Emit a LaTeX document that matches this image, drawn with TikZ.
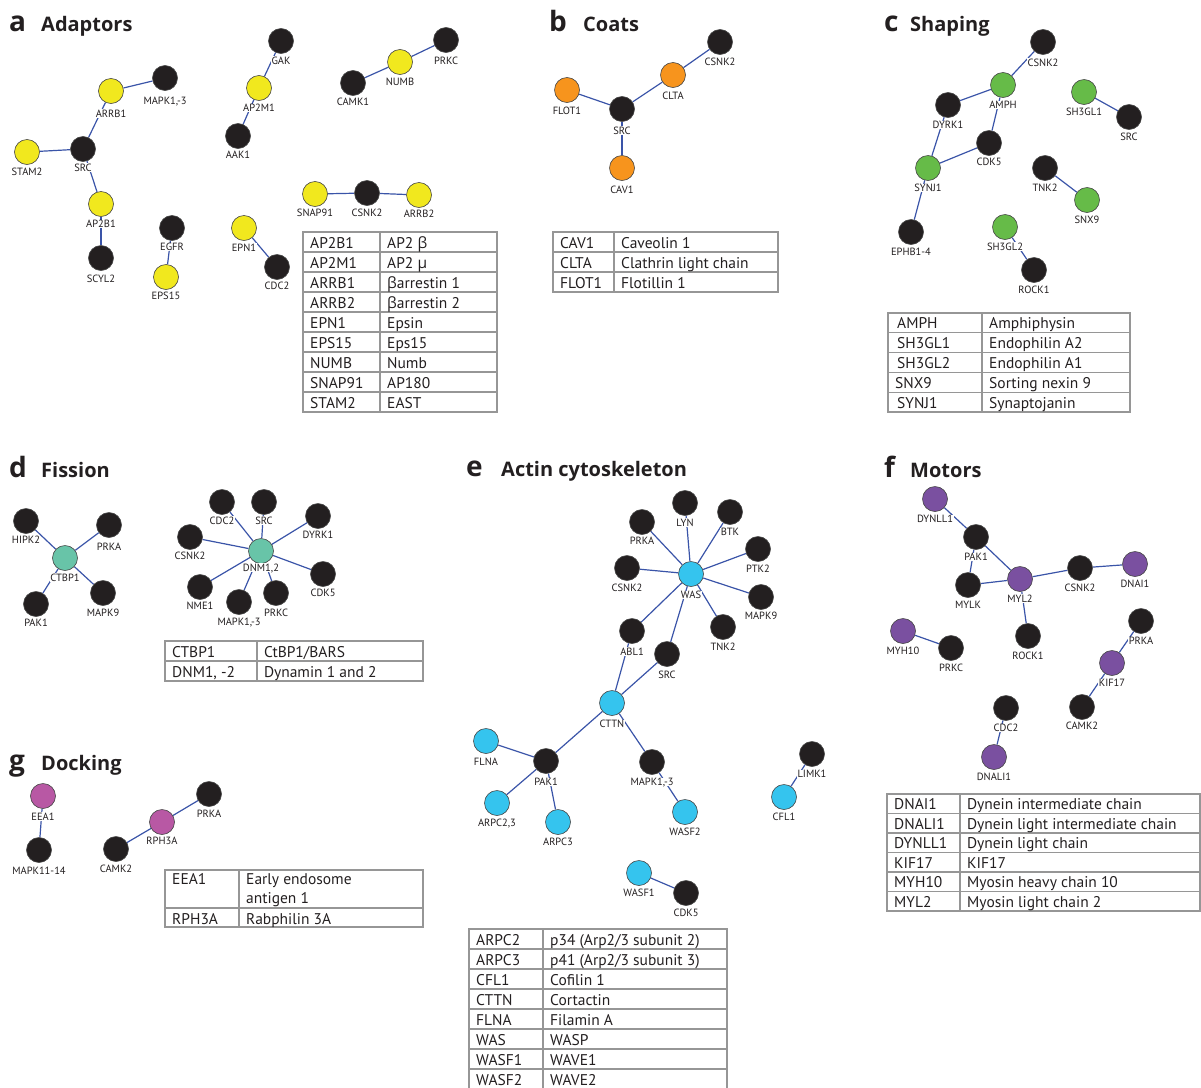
\documentclass[tikz,border=0pt]{standalone}
\usepackage{fontspec}
\setmainfont{PT Sans}
\newfontfamily\grk{Open Sans}
\newfontfamily\hfont{Open Sans}
\pgfdeclarelayer{edgelayer}
\pgfsetlayers{edgelayer,main}
\definecolor{nblack}{RGB}{35,31,32}
\definecolor{nyel}{RGB}{241,232,30}
\definecolor{norange}{RGB}{247,148,29}
\definecolor{ngreen}{RGB}{102,187,72}
\definecolor{nteal}{RGB}{104,196,168}
\definecolor{ncyan}{RGB}{53,196,238}
\definecolor{npurple}{RGB}{122,80,160}
\definecolor{nmag}{RGB}{184,88,164}
\definecolor{eblue}{RGB}{58,84,168}
\definecolor{tgray}{RGB}{150,150,150}
\definecolor{nborder}{RGB}{70,70,70}
\newcommand\gn[6]{\node[#2] (#1) at (#3,#4) {}; \node[lbl] (#1-l) at (#3,#5) {#6};}
\newcommand\trow[6]{\node[tt] (#1a) at (#2+7,#4) {#5}; \node[tt] (#1b) at (#3+7,#4) {#6};}
\begin{document}
\begin{tikzpicture}[x=1pt,y=-1pt,
  nd/.style={circle, draw=nborder, line width=0.6pt, minimum size=25pt, inner sep=0pt},
  blk/.style={nd, fill=nblack},
  yel/.style={nd, fill=nyel},
  org/.style={nd, fill=norange},
  grn/.style={nd, fill=ngreen},
  tea/.style={nd, fill=nteal},
  cya/.style={nd, fill=ncyan},
  pur/.style={nd, fill=npurple},
  mag/.style={nd, fill=nmag},
  lbl/.style={font=\fontsize{10.5}{10.5}\selectfont, text=nblack, fill=white, inner sep=0.6pt, text height=7.3pt, text depth=0pt},
  ed/.style={draw=eblue, line width=1.2pt},
  tbl/.style={draw=tgray, line width=1.2pt},
  tt/.style={font=\fontsize{15.5}{15.5}\selectfont, text=nblack, anchor=base west, inner sep=0pt},
  hl/.style={font=\hfont\bfseries\fontsize{28}{28}\selectfont, text=nblack, anchor=base west, inner sep=0pt},
  ht/.style={font=\hfont\bfseries\fontsize{20}{20}\selectfont, text=nblack, anchor=base west, inner sep=0pt}]
\useasboundingbox (0,0) rectangle (1201,1087);

% ---------- titles
\node[hl] (tA) at (9,31) {a};   \node[ht] (tAt) at (41,31) {Adaptors};
\node[hl] (tB) at (549,31) {b};  \node[ht] (tBt) at (583,31) {Coats};
\node[hl] (tC) at (884,31) {c};  \node[ht] (tCt) at (910,31) {Shaping};
\node[hl] (tD) at (9,477) {d};  \node[ht] (tDt) at (41,477) {Fission};
\node[hl] (tE) at (466,476) {e}; \node[ht] (tEt) at (501,476) {Actin cytoskeleton};
\node[hl] (tF) at (884,477) {f}; \node[ht] (tFt) at (910,477) {Motors};
\node[hl] (tG) at (9,770) {g};  \node[ht] (tGt) at (41,770) {Docking};

% ---------- panel a
\gn{aMAPK}{blk}{165}{78}{101}{MAPK1,-3}
\gn{aARRB1}{yel}{111}{91}{113.5}{ARRB1}
\gn{aSRC}{blk}{83}{149}{167.5}{SRC}
\gn{aSTAM2}{yel}{27}{152}{172}{STAM2}
\gn{aAP2B1}{yel}{101}{204}{224}{AP2B1}
\gn{aSCYL2}{blk}{101}{258}{279}{SCYL2}
\gn{aEGFR}{blk}{172}{228}{247}{EGFR}
\gn{aEPS15}{yel}{166}{277}{296}{EPS15}
\gn{aEPN1}{yel}{244}{228}{247.5}{EPN1}
\gn{aCDC2}{blk}{277}{267}{286}{CDC2}
\gn{aGAK}{blk}{281}{41}{60.5}{GAK}
\gn{aAP2M1}{yel}{259}{88}{108}{AP2M1}
\gn{aAAK1}{blk}{238}{136}{155}{AAK1}
\gn{aCAMK1}{blk}{353}{83}{102}{CAMK1}
\gn{aNUMB}{yel}{400}{62}{81.5}{NUMB}
\gn{aPRKC}{blk}{446}{40}{61}{PRKC}
\gn{aSNAP91}{yel}{315}{194}{213}{SNAP91}
\gn{aCSNK2}{blk}{367}{193}{213}{CSNK2}
\gn{aARRB2}{yel}{419}{195}{214}{ARRB2}

% ---------- panel b
\gn{bCSNK2}{blk}{720}{42}{62}{CSNK2}
\gn{bCLTA}{org}{673}{75}{95.5}{CLTA}
\gn{bFLOT1}{org}{567}{90}{110.5}{FLOT1}
\gn{bSRC}{blk}{622}{109}{130.5}{SRC}
\gn{bCAV1}{org}{622}{168}{190}{CAV1}

% ---------- panel c
\gn{cCSNK2}{blk}{1043}{42}{62.5}{CSNK2}
\gn{cAMPH}{grn}{1003}{85}{105}{AMPH}
\gn{cDYRK1}{blk}{948}{105}{125}{DYRK1}
\gn{cCDK5}{blk}{989}{143}{162}{CDK5}
\gn{cSYNJ1}{grn}{928}{168}{188}{SYNJ1}
\gn{cEPHB}{blk}{911}{232}{252}{EPHB1-4}
\gn{cSH3GL1}{grn}{1084}{92}{112}{SH3GL1}
\gn{cSRC}{blk}{1129}{117}{137}{SRC}
\gn{cTNK2}{blk}{1045}{168}{188}{TNK2}
\gn{cSNX9}{grn}{1087}{200}{220}{SNX9}
\gn{cSH3GL2}{grn}{1005}{227}{246.5}{SH3GL2}
\gn{cROCK1}{blk}{1034}{270}{290}{ROCK1}

% ---------- panel d
\gn{dHIPK2}{blk}{26}{521}{540}{HIPK2}
\gn{dPRKA}{blk}{109}{525}{546.5}{PRKA}
\gn{dCTBP1}{tea}{65}{558}{577.5}{CTBP1}
\gn{dPAK1}{blk}{36}{604}{623}{PAK1}
\gn{dMAPK9}{blk}{103}{593}{613}{MAPK9}
\gn{dCDC2}{blk}{222}{502}{520.5}{CDC2}
\gn{dSRC}{blk}{264}{502}{520.5}{SRC}
\gn{dDYRK1}{blk}{318}{516}{535}{DYRK1}
\gn{dCSNK2}{blk}{190}{537}{556}{CSNK2}
\gn{dDNM}{tea}{261}{551}{567.5}{DNM1,2}
\gn{dCDK5}{blk}{323}{574}{592.5}{CDK5}
\gn{dNME1}{blk}{200}{587}{605.5}{NME1}
\gn{dMAPK13}{blk}{239}{602}{621.5}{MAPK1,-3}
\gn{dPRKC}{blk}{276}{593}{612.5}{PRKC}

% ---------- panel e
\gn{eLYN}{blk}{685}{503}{522.5}{LYN}
\gn{eBTK}{blk}{730}{512}{532}{BTK}
\gn{ePRKA}{blk}{642}{522}{541}{PRKA}
\gn{ePTK2}{blk}{758}{549}{568.5}{PTK2}
\gn{eCSNK2}{blk}{627}{568}{587.5}{CSNK2}
\gn{eWAS}{cya}{691}{574}{595}{WAS}
\gn{eMAPK9}{blk}{761}{597}{616}{MAPK9}
\gn{eTNK2}{blk}{723}{627}{647}{TNK2}
\gn{eABL1}{blk}{632}{631}{651.5}{ABL1}
\gn{eSRC}{blk}{667}{654}{675}{SRC}
\gn{eCTTN}{cya}{612}{703}{724}{CTTN}
\gn{eFLNA}{cya}{486}{741}{762}{FLNA}
\gn{ePAK1}{blk}{546}{761}{782}{PAK1}
\gn{eMAPK13}{blk}{652}{762}{782}{MAPK1,-3}
\gn{eARPC23}{cya}{497}{803}{823}{ARPC2,3}
\gn{eARPC3}{cya}{558}{822}{842}{ARPC3}
\gn{eWASF2}{cya}{685}{812}{832}{WASF2}
\gn{eLIMK1}{blk}{812}{754}{774}{LIMK1}
\gn{eCFL1}{cya}{784}{797}{817}{CFL1}
\gn{eWASF1}{cya}{639}{873}{893}{WASF1}
\gn{eCDK5}{blk}{686}{893}{913}{CDK5}

% ---------- panel f
\gn{fDYNLL1}{pur}{935}{499}{519}{DYNLL1}
\gn{fPAK1}{blk}{976}{537}{557}{PAK1}
\gn{fMYLK}{blk}{968}{585}{605}{MYLK}
\gn{fMYL2}{pur}{1020}{579}{598.5}{MYL2}
\gn{fCSNK2}{blk}{1080}{568}{587.5}{CSNK2}
\gn{fDNAI1}{pur}{1135}{564}{583.5}{DNAI1}
\gn{fROCK1}{blk}{1028}{636}{656}{ROCK1}
\gn{fMYH10}{pur}{903}{631}{651}{MYH10}
\gn{fPRKC}{blk}{951}{648}{668}{PRKC}
\gn{fPRKA}{blk}{1141}{621}{641}{PRKA}
\gn{fKIF17}{pur}{1112}{663}{683}{KIF17}
\gn{fCAMK2}{blk}{1082}{707}{726}{CAMK2}
\gn{fCDC2}{blk}{1006}{708}{728}{CDC2}
\gn{fDNALI1}{pur}{994}{757}{776.5}{DNALI1}

% ---------- panel g
\gn{gEEA1}{mag}{43}{796}{816.5}{EEA1}
\gn{gMAPK}{blk}{39}{850}{871}{MAPK11-14}
\gn{gPRKA}{blk}{209}{794}{814}{PRKA}
\gn{gRPH3A}{mag}{162}{822}{841}{RPH3A}
\gn{gCAMK2}{blk}{116}{849}{868.5}{CAMK2}

% ---------- edges
\begin{pgfonlayer}{edgelayer}
\foreach \u/\v in {aMAPK/aARRB1, aARRB1/aSRC, aSTAM2/aSRC, aSRC/aAP2B1, aAP2B1/aSCYL2,
  aEGFR/aEPS15, aEPN1/aCDC2, aGAK/aAP2M1, aAP2M1/aAAK1, aCAMK1/aNUMB, aNUMB/aPRKC,
  aSNAP91/aCSNK2, aCSNK2/aARRB2,
  bFLOT1/bSRC, bSRC/bCLTA, bCLTA/bCSNK2, bSRC/bCAV1,
  cCSNK2/cAMPH, cAMPH/cDYRK1, cAMPH/cCDK5, cDYRK1/cSYNJ1, cCDK5/cSYNJ1, cSYNJ1/cEPHB,
  cSH3GL1/cSRC, cTNK2/cSNX9, cSH3GL2/cROCK1,
  dCTBP1/dHIPK2, dCTBP1/dPRKA, dCTBP1/dPAK1, dCTBP1/dMAPK9,
  dDNM/dCDC2, dDNM/dSRC, dDNM/dDYRK1, dDNM/dCSNK2, dDNM/dCDK5, dDNM/dNME1, dDNM/dMAPK13, dDNM/dPRKC,
  eWAS/eLYN, eWAS/eBTK, eWAS/ePRKA, eWAS/ePTK2, eWAS/eCSNK2, eWAS/eMAPK9, eWAS/eTNK2,
  eWAS/eABL1, eWAS/eSRC, eABL1/eCTTN, eSRC/eCTTN, eCTTN/ePAK1, eCTTN/eMAPK13,
  ePAK1/eFLNA, ePAK1/eARPC23, ePAK1/eARPC3, eMAPK13/eWASF2, eLIMK1/eCFL1, eWASF1/eCDK5,
  fDYNLL1/fPAK1, fPAK1/fMYL2, fPAK1/fMYLK, fMYLK/fMYL2, fMYL2/fCSNK2, fCSNK2/fDNAI1,
  fMYL2/fROCK1, fMYH10/fPRKC, fPRKA/fKIF17, fKIF17/fCAMK2, fCDC2/fDNALI1,
  gEEA1/gMAPK, gPRKA/gRPH3A, gRPH3A/gCAMK2}
  \draw[ed] (\u) -- (\v);
\end{pgfonlayer}

% ---------- table a
\draw[tbl] (303,232) rectangle (497,412);
\draw[tbl] (380,232) -- (380,412);
\foreach \k in {1,...,8} \draw[tbl] (303,232+20*\k) -- (497,232+20*\k);
\trow{ta1}{303}{380}{248}{AP2B1}{AP2 {\grk β}}
\trow{ta2}{303}{380}{268}{AP2M1}{AP2 {\grk µ}}
\trow{ta3}{303}{380}{288}{ARRB1}{{\grk β}arrestin 1}
\trow{ta4}{303}{380}{308}{ARRB2}{{\grk β}arrestin 2}
\trow{ta5}{303}{380}{328}{EPN1}{Epsin}
\trow{ta6}{303}{380}{348}{EPS15}{Eps15}
\trow{ta7}{303}{380}{368}{NUMB}{Numb}
\trow{ta8}{303}{380}{388}{SNAP91}{AP180}
\trow{ta9}{303}{380}{408}{STAM2}{EAST}

% ---------- table b
\draw[tbl] (553,232) rectangle (778,292);
\draw[tbl] (614,232) -- (614,292);
\foreach \k in {1,2} \draw[tbl] (553,232+20*\k) -- (778,232+20*\k);
\trow{tb1}{553}{614}{248}{CAV1}{Caveolin 1}
\trow{tb2}{553}{614}{268}{CLTA}{Clathrin light chain}
\trow{tb3}{553}{614}{288}{FLOT1}{Flotillin 1}

% ---------- table c
\draw[tbl] (888,313) rectangle (1130,412);
\draw[tbl] (982,313) -- (982,412);
\foreach \k in {1,...,4} \draw[tbl] (888,313+19.8*\k) -- (1130,313+19.8*\k);
\trow{tc1}{890}{982}{328.5}{AMPH}{Amphiphysin}
\trow{tc2}{890}{982}{348.5}{SH3GL1}{Endophilin A2}
\trow{tc3}{890}{982}{368}{SH3GL2}{Endophilin A1}
\trow{tc4}{888}{982}{388}{SNX9}{Sorting nexin 9}
\trow{tc5}{890}{982}{408}{SYNJ1}{Synaptojanin}

% ---------- table d
\draw[tbl] (165,641) rectangle (423,681);
\draw[tbl] (257,641) -- (257,681);
\draw[tbl] (165,661) -- (423,661);
\trow{td1}{165}{257}{657}{CTBP1}{CtBP1/BARS}
\trow{td2}{165}{257}{677}{DNM1, -2}{Dynamin 1 and 2}

% ---------- table e
\draw[tbl] (469,1089) -- (469,929) -- (727,929) -- (727,1089);
\draw[tbl] (543,929) -- (543,1089);
\foreach \k in {1,...,7} \draw[tbl] (469,929+20*\k) -- (727,929+20*\k);
\trow{te1}{469}{543}{945}{ARPC2}{p34 (Arp2/3 subunit 2)}
\trow{te2}{469}{543}{965}{ARPC3}{p41 (Arp2/3 subunit 3)}
\trow{te3}{469}{543}{985}{CFL1}{Cofilin 1}
\trow{te4}{469}{543}{1005}{CTTN}{Cortactin}
\trow{te5}{469}{543}{1025}{FLNA}{Filamin A}
\trow{te6}{469}{543}{1045}{WAS}{WASP}
\trow{te7}{469}{543}{1065}{WASF1}{WAVE1}
\trow{te8}{469}{543}{1085}{WASF2}{WAVE2}

% ---------- table f
\draw[tbl] (887,794) rectangle (1200,911);
\draw[tbl] (960,794) -- (960,911);
\foreach \k in {1,...,5} \draw[tbl] (887,794+19.5*\k) -- (1200,794+19.5*\k);
\trow{tf1}{887}{960}{809.5}{DNAI1}{Dynein intermediate chain}
\trow{tf2}{887}{960}{829}{DNALI1}{Dynein light intermediate chain}
\trow{tf3}{887}{960}{848.5}{DYNLL1}{Dynein light chain}
\trow{tf4}{887}{960}{868}{KIF17}{KIF17}
\trow{tf5}{887}{960}{887.5}{MYH10}{Myosin heavy chain 10}
\trow{tf6}{887}{960}{907}{MYL2}{Myosin light chain 2}

% ---------- table g
\draw[tbl] (165,870) rectangle (423,927);
\draw[tbl] (239,870) -- (239,927);
\draw[tbl] (165,908) -- (423,908);
\trow{tg1}{165}{239}{884.5}{EEA1}{Early endosome}
\node[tt] (tg1c) at (246,903) {antigen 1};
\trow{tg2}{165}{239}{924}{RPH3A}{Rabphilin 3A}
\end{tikzpicture}
\end{document}
